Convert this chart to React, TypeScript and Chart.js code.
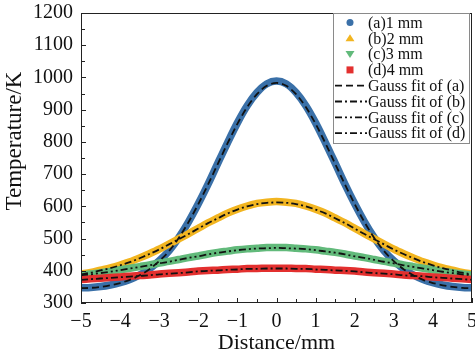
import React, { useEffect, useRef } from "react";
import { Chart, registerables } from "chart.js";

Chart.register(...registerables);

const distance = [
  -5, -4.75, -4.5, -4.25, -4, -3.75, -3.5, -3.25, -3, -2.75, -2.5, -2.25, -2, -1.75, -1.5, -1.25, -1, -0.75, -0.5, -0.25,
  0, 0.25, 0.5, 0.75, 1, 1.25, 1.5, 1.75, 2, 2.25, 2.5, 2.75, 3, 3.25, 3.5, 3.75, 4, 4.25, 4.5, 4.75, 5,
];

const temp1mm = [
  347, 348, 351, 356, 363, 373, 387, 406, 431, 462, 503, 552, 608, 669, 734, 798, 859, 912, 953, 980,
  989, 980, 953, 912, 859, 798, 734, 669, 608, 552, 503, 462, 431, 406, 387, 373, 363, 356, 351, 348, 347,
];
const temp2mm = [
  390, 395, 402, 409, 418, 428, 440, 453, 467, 483, 499, 515, 532, 549, 564, 579, 591, 601, 609, 613,
  615, 613, 609, 601, 591, 579, 564, 549, 532, 515, 499, 483, 467, 453, 440, 428, 418, 409, 402, 395, 390,
];
const temp3mm = [
  387, 390, 394, 398, 403, 408, 413, 418, 424, 429, 435, 441, 446, 452, 457, 461, 465, 468, 470, 472,
  472, 472, 470, 468, 465, 461, 457, 452, 446, 441, 435, 429, 424, 418, 413, 408, 403, 398, 394, 390, 387,
];
const temp4mm = [
  373, 375, 377, 379, 381, 383, 385, 387, 390, 392, 394, 396, 399, 401, 402, 404, 405, 407, 407, 408,
  408, 408, 407, 407, 405, 404, 402, 401, 399, 396, 394, 392, 390, 387, 385, 383, 381, 379, 377, 375, 373,
];

const fit1mm = [
  346, 347, 350, 355, 362, 372, 386, 405, 430, 461, 502, 551, 607, 668, 732, 796, 856, 908, 948, 974,
  983, 974, 948, 908, 856, 796, 732, 668, 607, 551, 502, 461, 430, 405, 386, 372, 362, 355, 350, 347, 346,
];
const fit2mm = [
  389, 394, 401, 408, 417, 427, 439, 452, 466, 482, 498, 514, 531, 548, 563, 578, 590, 600, 607, 611,
  612, 611, 607, 600, 590, 578, 563, 548, 531, 514, 498, 482, 466, 452, 439, 427, 417, 408, 401, 394, 389,
];
const fit3mm = [
  386, 389, 393, 397, 402, 407, 412, 417, 423, 428, 434, 440, 445, 451, 456, 460, 464, 467, 469, 470,
  471, 470, 469, 467, 464, 460, 456, 451, 445, 440, 434, 428, 423, 417, 412, 407, 402, 397, 393, 389, 386,
];
const fit4mm = [
  372, 374, 376, 378, 380, 382, 384, 386, 389, 391, 393, 395, 398, 400, 401, 403, 404, 406, 406, 407,
  407, 407, 406, 406, 404, 403, 401, 400, 398, 395, 393, 391, 389, 386, 384, 383, 380, 378, 376, 374, 372,
];

const seriesLabels = ["(a)1 mm", "(b)2 mm", "(c)3 mm", "(d)4 mm"];
const fitLabels = ["Gauss fit of (a)", "Gauss fit of (b)", "Gauss fit of (c)", "Gauss fit of (d)"];
const yTicks = [300, 400, 500, 600, 700, 800, 900, 1000, 1100, 1200];
const xTicks = [-5, -4, -3, -2, -1, 0, 1, 2, 3, 4, 5];
const yTitle = "Temperature/K";
const xTitle = "Distance/mm";

const COLORS = ["#3a70a8", "#f2b520", "#62ba7b", "#e3302f"];
const MARKERS = ["circle", "triangle", "triangleDown", "rect"];
const DASHES = [[7, 4], [7, 3, 2, 3], [7, 3, 2, 3, 2, 3], [7, 3, 2, 3]];
const SERIF = "'Liberation Serif', 'Times New Roman', serif";

const toPoints = (ys: number[]) => ys.map((y, i) => ({ x: distance[i], y }));

const decorPlugin = {
  id: "decor",
  afterDraw(chart: any) {
    const { ctx, chartArea: a, scales } = chart;
    const xs = scales.x;
    const ys = scales.y;
    ctx.save();
    // frame
    ctx.strokeStyle = "#222";
    ctx.lineWidth = 1;
    ctx.setLineDash([]);
    ctx.strokeRect(Math.round(a.left) + 0.5, Math.round(a.top) + 0.5, Math.round(a.right - a.left) - 1, Math.round(a.bottom - a.top) - 1);
    // inward ticks
    ctx.beginPath();
    for (let v = -5; v <= 5.0001; v += 0.5) {
      const px = Math.round(xs.getPixelForValue(v)) + 0.5;
      const len = Math.abs(v - Math.round(v)) < 1e-6 ? 5 : 4;
      ctx.moveTo(px, a.bottom);
      ctx.lineTo(px, a.bottom - len);
    }
    for (let v = 300; v <= 1200; v += 50) {
      const py = Math.round(ys.getPixelForValue(v)) + 0.5;
      const len = v % 100 === 0 ? 5 : 4;
      ctx.moveTo(a.left, py);
      ctx.lineTo(a.left + len, py);
    }
    ctx.stroke();

    // y axis title
    ctx.fillStyle = "#111";
    ctx.font = `23px ${SERIF}`;
    ctx.textAlign = "center";
    ctx.textBaseline = "middle";
    ctx.save();
    ctx.translate(15, 141);
    ctx.rotate(-Math.PI / 2);
    ctx.fillText(yTitle, 0, 0);
    ctx.restore();

    // legend
    const lx = 333.5, ly = 13.5, lw = 136, lh = 130;
    ctx.fillStyle = "#fff";
    ctx.fillRect(lx, ly, lw, lh);
    ctx.strokeStyle = "#8a8a8a";
    ctx.lineWidth = 1;
    ctx.strokeRect(lx, ly, lw, lh);
    ctx.font = `16px ${SERIF}`;
    ctx.textBaseline = "middle";
    ctx.textAlign = "left";
    const rowY = (i: number) => 22.5 + i * 15.8;
    for (let i = 0; i < 4; i++) {
      const cy = rowY(i);
      const cx = 350;
      ctx.fillStyle = COLORS[i];
      ctx.beginPath();
      if (MARKERS[i] === "circle") {
        ctx.arc(cx, cy, 3.5, 0, Math.PI * 2);
      } else if (MARKERS[i] === "triangle") {
        ctx.moveTo(cx, cy - 4);
        ctx.lineTo(cx + 4.5, cy + 3);
        ctx.lineTo(cx - 4.5, cy + 3);
        ctx.closePath();
      } else if (MARKERS[i] === "triangleDown") {
        ctx.moveTo(cx, cy + 4);
        ctx.lineTo(cx + 4.5, cy - 3);
        ctx.lineTo(cx - 4.5, cy - 3);
        ctx.closePath();
      } else {
        ctx.rect(cx - 3.5, cy - 3.5, 7, 7);
      }
      ctx.fill();
      ctx.fillStyle = "#111";
      ctx.fillText(seriesLabels[i], 368, cy + 1);
    }
    for (let i = 0; i < 4; i++) {
      const cy = rowY(i + 4);
      ctx.strokeStyle = "#111";
      ctx.lineWidth = 1.8;
      ctx.setLineDash(DASHES[i]);
      ctx.beginPath();
      ctx.moveTo(335, cy);
      ctx.lineTo(367, cy);
      ctx.stroke();
      ctx.setLineDash([]);
      ctx.fillStyle = "#111";
      ctx.fillText(fitLabels[i], 368, cy + 1);
    }
    ctx.restore();
  },
};

export default function App() {
  const ref = useRef<HTMLCanvasElement | null>(null);

  useEffect(() => {
    document.body.style.margin = "0";
    const canvas = ref.current;
    if (!canvas) return;
    const seriesData = [temp1mm, temp2mm, temp3mm, temp4mm];
    const fitData = [fit1mm, fit2mm, fit3mm, fit4mm];
    const datasets: any[] = [];
    seriesData.forEach((ys, i) => {
      datasets.push({
        label: seriesLabels[i],
        data: toPoints(ys),
        borderColor: COLORS[i],
        backgroundColor: COLORS[i],
        borderWidth: 7.5,
        pointRadius: 0,
        cubicInterpolationMode: "monotone",
        fill: false,
        order: 4 - i,
      });
    });
    fitData.forEach((ys, i) => {
      datasets.push({
        label: fitLabels[i],
        data: toPoints(ys),
        borderColor: "#111",
        borderWidth: 1.8,
        borderDash: DASHES[i],
        pointRadius: 0,
        cubicInterpolationMode: "monotone",
        fill: false,
        order: 0,
      });
    });

    const chart = new Chart(canvas, {
      type: "line",
      data: { datasets },
      options: {
        animation: false,
        responsive: false,
        devicePixelRatio: 1,
        layout: { padding: { top: 13, right: 3, left: 0, bottom: 0 } },
        plugins: { legend: { display: false }, tooltip: { enabled: false } },
        scales: {
          x: {
            type: "linear",
            min: -5,
            max: 5,
            afterFit: (s: any) => {
              s.height = 54;
              s.paddingLeft = 0;
              s.paddingRight = 0;
            },
            afterBuildTicks: (s: any) => { s.ticks = xTicks.map((v) => ({ value: v })); },
            grid: { display: false, drawTicks: false },
            border: { display: false },
            ticks: {
              padding: 7,
              color: "#111",
              font: { family: SERIF, size: 20 },
              maxRotation: 0,
              autoSkip: false,
              callback: (v: any) => (Number(v) < 0 ? "\u2212" + Math.abs(Number(v)) : String(v)),
            },
            title: {
              display: true,
              text: xTitle,
              color: "#111",
              font: { family: SERIF, size: 22 },
              padding: { top: 0, bottom: 1 },
            },
          },
          y: {
            type: "linear",
            min: 300,
            max: 1200,
            afterFit: (s: any) => {
              s.width = 81;
              s.paddingTop = 0;
              s.paddingBottom = 0;
            },
            afterBuildTicks: (s: any) => { s.ticks = yTicks.map((v) => ({ value: v })); },
            grid: { display: false, drawTicks: false },
            border: { display: false },
            ticks: {
              padding: 8,
              color: "#111",
              font: { family: SERIF, size: 20 },
              autoSkip: false,
              callback: (v: any) => String(v),
            },
            title: { display: false },
          },
        },
      },
      plugins: [decorPlugin],
    });
    return () => chart.destroy();
  }, []);

  return (
    <canvas ref={ref} width={475} height={357} style={{ display: "block", width: 475, height: 357 }} />
  );
}
